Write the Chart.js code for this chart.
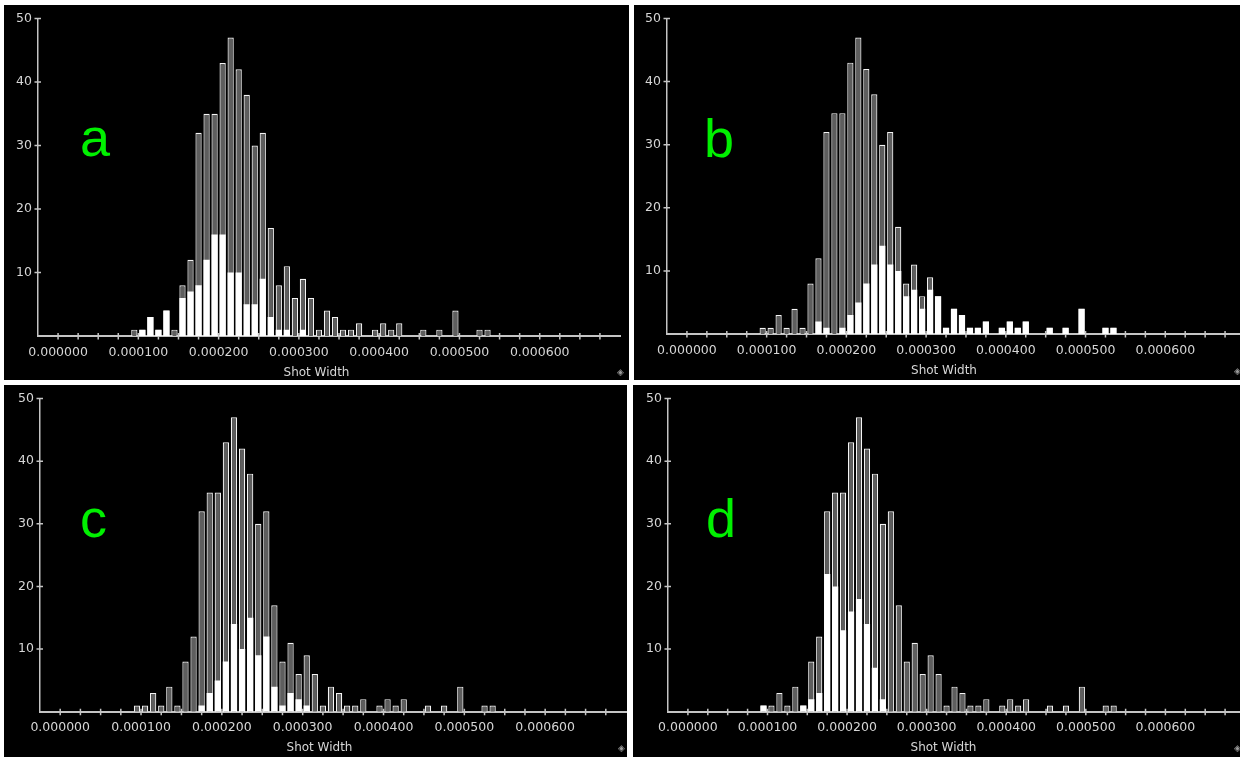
<!DOCTYPE html>
<html>
<head>
<meta charset="utf-8">
<script src="https://cdn.jsdelivr.net/npm/chart.js@4.4.0/dist/chart.umd.min.js"></script>
<style>
  html, body { margin: 0; padding: 0; background: #ffffff; }
  body { width: 1240px; height: 757px; position: relative; overflow: hidden; }
  .panel { position: absolute; background: #000000; overflow: hidden; }
  .panel canvas { position: absolute; left: 0; top: 0; }
  .tag { position: absolute; font-family: 'Liberation Sans', Arial, sans-serif; font-size: 54px; line-height: 54px; color: #00f000; }
  .grip { position: absolute; font-family: 'DejaVu Sans', sans-serif; font-size: 9px; line-height: 9px; color: #9a9a9a; }
</style>
</head>
<body>
<div class="panel" style="left:4px;top:5px;width:625px;height:375px;">
  <canvas id="ca" width="625" height="375"></canvas>
  <span class="grip" style="left:613px;top:363px;">◈</span>
</div>
<div class="panel" style="left:634px;top:5px;width:606px;height:375px;">
  <canvas id="cb" width="620" height="375"></canvas>
  <span class="grip" style="left:600px;top:362px;">◈</span>
</div>
<div class="panel" style="left:4px;top:385px;width:623px;height:372px;">
  <canvas id="cc" width="631" height="372"></canvas>
  <span class="grip" style="left:614px;top:359px;">◈</span>
</div>
<div class="panel" style="left:633px;top:385px;width:607px;height:372px;">
  <canvas id="cd" width="621" height="372"></canvas>
  <span class="grip" style="left:601px;top:359px;">◈</span>
</div>
<div class="tag" style="left:80px;top:110px;">a</div>
<div class="tag" style="left:704px;top:111px;">b</div>
<div class="tag" style="left:80px;top:491px;">c</div>
<div class="tag" style="left:706px;top:491px;">d</div>

<script>
// ---------- data ----------
const BIN_WIDTH = 0.00001;
// lower edge of each histogram bin (Shot Width)
const binLower = [
  0.00009, 0.00010, 0.00011, 0.00012, 0.00013, 0.00014, 0.00015, 0.00016, 0.00017, 0.00018,
  0.00019, 0.00020, 0.00021, 0.00022, 0.00023, 0.00024, 0.00025, 0.00026, 0.00027, 0.00028,
  0.00029, 0.00030, 0.00031, 0.00032, 0.00033, 0.00034, 0.00035, 0.00036, 0.00037, 0.00038,
  0.00039, 0.00040, 0.00041, 0.00042, 0.00043, 0.00044, 0.00045, 0.00046, 0.00047, 0.00048,
  0.00049, 0.00050, 0.00051, 0.00052, 0.00053
];
// all shots (outlined bars, identical in every panel)
const totalCounts = [
  1, 1, 3, 1, 4, 1, 8, 12, 32, 35,
  35, 43, 47, 42, 38, 30, 32, 17, 8, 11,
  6, 9, 6, 1, 4, 3, 1, 1, 2, 0,
  1, 2, 1, 2, 0, 0, 1, 0, 1, 0,
  4, 0, 0, 1, 1
];
// highlighted subsets (white bars)
const subsetA = [
  0, 1, 3, 1, 4, 0, 6, 7, 8, 12,
  16, 16, 10, 10, 5, 5, 9, 3, 1, 1,
  0, 1, 0, 0, 0, 0, 0, 0, 0, 0,
  0, 0, 0, 0, 0, 0, 0, 0, 0, 0,
  0, 0, 0, 0, 0
];
const subsetB = [
  0, 0, 0, 0, 0, 0, 0, 2, 1, 0,
  1, 3, 5, 8, 11, 14, 11, 10, 6, 7,
  4, 7, 6, 1, 4, 3, 1, 1, 2, 0,
  1, 2, 1, 2, 0, 0, 1, 0, 1, 0,
  4, 0, 0, 1, 1
];
const subsetC = [
  0, 0, 0, 0, 0, 0, 0, 0, 1, 3,
  5, 8, 14, 10, 15, 9, 12, 4, 1, 3,
  2, 1, 0, 0, 0, 0, 0, 0, 0, 0,
  0, 0, 0, 0, 0, 0, 0, 0, 0, 0,
  0, 0, 0, 0, 0
];
const subsetD = [
  1, 0, 0, 0, 0, 1, 2, 3, 22, 20,
  13, 16, 18, 14, 7, 2, 0, 0, 0, 0,
  0, 0, 0, 0, 0, 0, 0, 0, 0, 0,
  0, 0, 0, 0, 0, 0, 0, 0, 0, 0,
  0, 0, 0, 0, 0
];
const xAxisTitle = 'Shot Width';
const xMin = -0.000025, xMax = 0.0007, xStep = 0.000025, xLabelStep = 0.0001, xLabelMax = 0.0006;
const yMin = 0, yMax = 50, yStep = 10;

// ---------- styling ----------
const AXIS = '#c4c4c4';
const TEXT = '#d6d6d6';
const FONT = "'DejaVu Sans', sans-serif";

const crossTicks = {
  id: 'crossTicks',
  beforeDatasetsDraw(chart) {
    const { ctx, chartArea: ca, scales: { x, y } } = chart;
    ctx.save();
    ctx.strokeStyle = AXIS;
    ctx.lineWidth = 1.5;
    ctx.beginPath();
    x.ticks.forEach(t => {
      const px = x.getPixelForValue(t.value);
      if (px <= ca.left + 1 || px >= ca.right - 1) return;
      ctx.moveTo(px, ca.bottom - 3);
      ctx.lineTo(px, ca.bottom + 3.5);
    });
    y.ticks.forEach(t => {
      if (t.value === 0) return;
      const py = y.getPixelForValue(t.value);
      ctx.moveTo(ca.left - 3.5, py);
      ctx.lineTo(ca.left + 3, py);
    });
    ctx.stroke();
    ctx.restore();
  }
};

const toPoints = counts => binLower.map((lo, i) => ({ x: lo + BIN_WIDTH / 2, y: counts[i] > 0 ? counts[i] : null }));

function makePanel(id, subset, g) {
  const xHeight = g.h - g.bottom - 14.4 - g.titlePad;
  new Chart(document.getElementById(id), {
    type: 'bar',
    data: {
      datasets: [
        { label: 'subset', data: toPoints(subset), backgroundColor: '#ffffff', borderWidth: 0, order: 0,
          grouped: false, barPercentage: 0.78, categoryPercentage: 1 },
        { label: 'all', data: toPoints(totalCounts), backgroundColor: '#5e5e5e', borderColor: '#f4f4f4', borderWidth: 1.2, order: 1,
          grouped: false, barPercentage: 0.78, categoryPercentage: 1 }
      ]
    },
    options: {
      responsive: false,
      animation: false,
      devicePixelRatio: 1,
      layout: { padding: { top: g.top, left: 0, right: 0, bottom: 0 } },
      plugins: {
        legend: { display: false },
        tooltip: { enabled: false },
        title: {
          display: true, position: 'bottom', text: xAxisTitle, color: TEXT,
          font: { family: FONT, size: 12, weight: 'normal' },
          padding: { top: 0, bottom: g.titlePad }
        }
      },
      scales: {
        x: {
          type: 'linear', min: xMin, max: xMax, offset: false,
          grid: { display: false, drawTicks: false, offset: false },
          border: { display: true, color: AXIS, width: 2 },
          afterFit: s => { s.height = xHeight; },
          ticks: {
            stepSize: xStep, autoSkip: false, maxRotation: 0, minRotation: 0,
            padding: 9, color: TEXT, font: { family: FONT, size: 12.5 },
            callback: v => {
              const k = v / xLabelStep;
              if (v > -1e-9 && v <= xLabelMax + 1e-9 && Math.abs(k - Math.round(k)) < 1e-6) return Math.abs(v).toFixed(6);
              return '';
            }
          }
        },
        y: {
          min: yMin, max: yMax,
          grid: { display: false, drawTicks: false },
          border: { display: true, color: AXIS, width: 1.5 },
          afterFit: s => { s.width = g.yW; },
          ticks: {
            stepSize: yStep, padding: 6, color: TEXT, font: { family: FONT, size: 12.5 },
            callback: v => (v === 0 ? '' : String(v))
          }
        }
      }
    },
    plugins: [crossTicks]
  });
}

makePanel('ca', subsetA, { h: 375, yW: 34, top: 9, bottom: 331, titlePad: 0 });
makePanel('cb', subsetB, { h: 375, yW: 33, top: 7, bottom: 329, titlePad: 1.8 });
makePanel('cc', subsetC, { h: 372, yW: 36, top: 9.7, bottom: 326.7, titlePad: 1.5 });
makePanel('cd', subsetD, { h: 372, yW: 35, top: 9.7, bottom: 326.7, titlePad: 1.5 });
</script>
</body>
</html>
